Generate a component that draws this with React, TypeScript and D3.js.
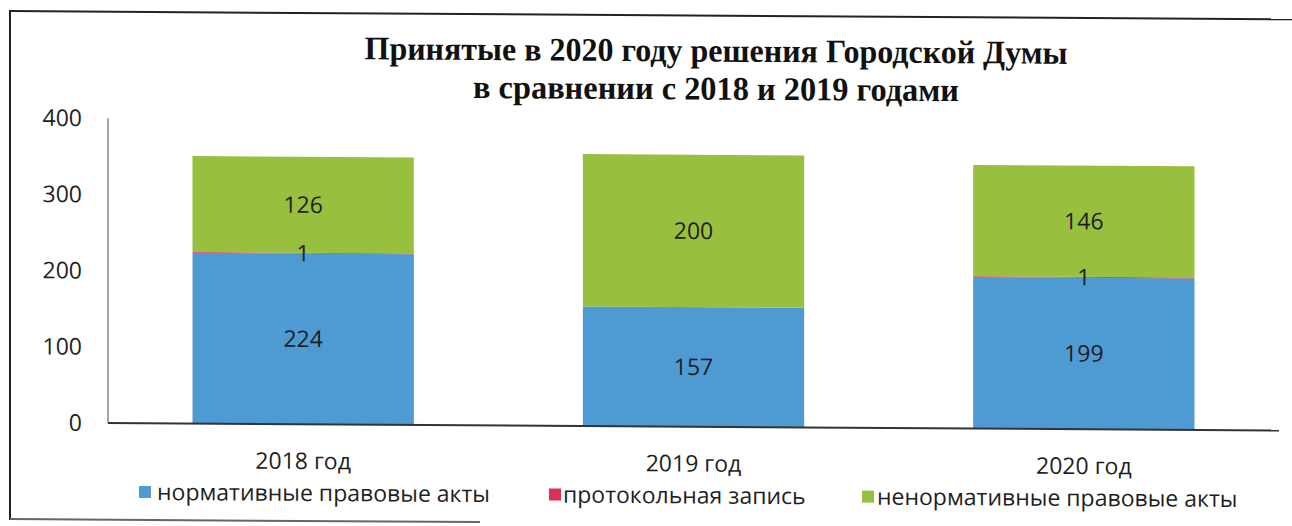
import React from 'react';
import * as d3 from 'd3';

const categories = ['2018 год', '2019 год', '2020 год'];
const seriesNames = ['нормативные правовые акты', 'протокольная запись', 'ненормативные правовые акты'];
const normative = [224, 157, 199];
const protocol = [1, 0, 1];
const nonNormative = [126, 200, 146];
const yTicks = [0, 100, 200, 300, 400];
const titleLines = ['Принятые в 2020 году решения Городской Думы', 'в сравнении с 2018 и 2019 годами'];

const colors = ['#4e9ad3', '#de2f5a', '#99bf3e'];

const W = 1292;
const H = 526;
const plot = { left: 108, right: 1279, top: 117.5, bottom: 422.3 };

const App = () => {
    const rows = categories.map((c, i) => ({
        cat: c,
        s0: normative[i],
        s1: protocol[i],
        s2: nonNormative[i],
    }));

    const stack = d3.stack<any>().keys(['s0', 's1', 's2']);
    const layers = stack(rows);

    const x = d3
        .scaleBand()
        .domain(categories)
        .range([plot.left, plot.right])
        .paddingInner(0.433)
        .paddingOuter(0.2165);

    const y = d3.scaleLinear().domain([0, 400]).range([plot.bottom, plot.top]);

    const sans = "'Open Sans', 'Noto Sans', sans-serif";

    // legend positions (square x, text x)
    const legendPos = [
        { sq: 139, tx: 157 },
        { sq: 549, tx: 563 },
        { sq: 862, tx: 877 },
    ];

    return (
        <svg width={W} height={H} style={{ position: 'absolute', left: 0, top: 0, background: '#fff' }}>
            <rect x={0} y={0} width={W} height={H} fill="#fff" />
            <g transform="skewY(0.37)">
                {/* frame */}
                <line x1={10} x2={1292} y1={11} y2={11} stroke="#222" strokeWidth={2} />
                <line x1={10} x2={10} y1={10} y2={520} stroke="#222" strokeWidth={2} />
                <line x1={10} x2={480} y1={519} y2={519} stroke="#666" strokeWidth={2} />

                {/* title */}
                {titleLines.map((t, i) => (
                    <text
                        key={t}
                        x={716}
                        y={i === 0 ? 57 : 95}
                        textAnchor="middle"
                        fontFamily="'Liberation Serif', 'Times New Roman', serif"
                        fontWeight="bold"
                        fontSize={33}
                        textLength={i === 0 ? 703 : 486}
                        lengthAdjust="spacingAndGlyphs"
                        fill="#111"
                    >
                        {t}
                    </text>
                ))}

                {/* y axis */}
                <line x1={plot.left} x2={plot.left} y1={plot.top} y2={plot.bottom} stroke="#8a8a8a" strokeWidth={1.5} />
                {yTicks.map((t) => (
                    <text
                        key={t}
                        x={82}
                        y={y(t)}
                        dy="0.35em"
                        textAnchor="end"
                        fontFamily={sans}
                        fontSize={23}
                        fill="#222"
                    >
                        {t}
                    </text>
                ))}

                {/* bars */}
                {layers.map((layer, li) => (
                    <g key={layer.key} fill={colors[li]}>
                        {layer.map((d: any) => (
                            <rect
                                key={d.data.cat}
                                x={x(d.data.cat)!}
                                width={x.bandwidth()}
                                y={y(d[1])}
                                height={Math.max(0, y(d[0]) - y(d[1]))}
                            />
                        ))}
                    </g>
                ))}

                {/* data labels */}
                {layers.map((layer) =>
                    layer.map((d: any) => {
                        const v = d[1] - d[0];
                        if (v <= 0) return null;
                        return (
                            <text
                                key={layer.key + d.data.cat}
                                x={x(d.data.cat)! + x.bandwidth() / 2}
                                y={y((d[0] + d[1]) / 2)}
                                dy="0.35em"
                                textAnchor="middle"
                                fontFamily={sans}
                                fontSize={23}
                                fill="#1e1e1e"
                            >
                                {v}
                            </text>
                        );
                    })
                )}

                {/* x axis */}
                <line x1={plot.left} x2={plot.right} y1={plot.bottom} y2={plot.bottom} stroke="#333" strokeWidth={2} />
                {categories.map((c) => (
                    <text
                        key={c}
                        x={x(c)! + x.bandwidth() / 2}
                        y={459}
                        dy="0.35em"
                        textAnchor="middle"
                        fontFamily={sans}
                        fontSize={23}
                        fill="#1e1e1e"
                    >
                        {c}
                    </text>
                ))}

                {/* legend */}
                {seriesNames.map((n, i) => (
                    <g key={n}>
                        <rect x={legendPos[i].sq} y={485} width={12} height={12} fill={colors[i]} />
                        <text
                            x={legendPos[i].tx}
                            y={491}
                            dy="0.35em"
                            fontFamily={sans}
                            fontSize={23}
                            fill="#1e1e1e"
                        >
                            {n}
                        </text>
                    </g>
                ))}
            </g>
        </svg>
    );
};

export default App;
